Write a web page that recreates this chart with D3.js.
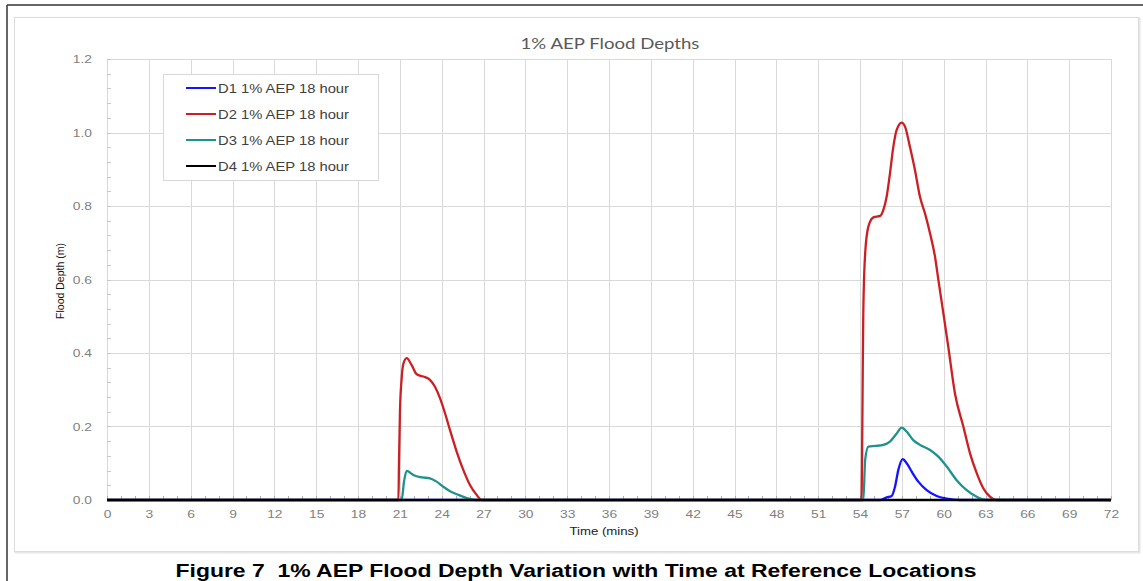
<!DOCTYPE html>
<html>
<head>
<meta charset="utf-8">
<script src="https://cdn.jsdelivr.net/npm/d3@7"></script>
<style>
  html, body { margin: 0; padding: 0; background: #fff; }
  svg { display: block; }
</style>
</head>
<body>
<svg id="chart" width="1143" height="581"></svg>
<script>
// ---------------- data ----------------
const chartTitle = "1% AEP Flood Depths";
const captionText = "Figure 7  1% AEP Flood Depth Variation with Time at Reference Locations";
const xTicks = d3.range(0, 73, 3);
const yTicks = [0, 0.2, 0.4, 0.6, 0.8, 1.0, 1.2];
const seriesNames = ["D1 1% AEP 18 hour", "D2 1% AEP 18 hour", "D3 1% AEP 18 hour", "D4 1% AEP 18 hour"];
const seriesColors = ["#1414ff", "#cc1f24", "#1f928c", "#000000"];

const d1Time  = [0, 55.44, 55.91, 56.27, 56.51, 56.75, 57.06, 57.35, 57.71, 58.18, 58.78, 59.5, 60.22, 61.17, 72];
const d1Depth = [0, 0, 0.007, 0.011, 0.036, 0.082, 0.111, 0.1, 0.077, 0.05, 0.027, 0.011, 0.004, 0, 0];

const d2Time  = [0, 20.9, 20.94, 21.01, 21.13, 21.25, 21.49, 21.85, 22.21, 22.69, 23.16, 23.52, 23.88, 24.24, 24.6, 25.08, 25.55, 26.03, 26.51, 26.87,
                 54.1, 54.24, 54.37, 54.6, 54.96, 55.44, 55.67, 55.91, 56.15, 56.39, 56.63, 56.99, 57.23, 57.58, 57.94, 58.3, 58.66, 59.02, 59.38, 59.62,
                 59.98, 60.33, 60.81, 61.41, 61.89, 62.37, 62.84, 63.32, 63.75, 72];
const d2Depth = [0, 0, 0.104, 0.24, 0.331, 0.37, 0.386, 0.367, 0.342, 0.336, 0.327, 0.308, 0.277, 0.236, 0.19, 0.131, 0.082, 0.041, 0.014, 0,
                 0, 0.517, 0.671, 0.744, 0.769, 0.773, 0.789, 0.825, 0.889, 0.961, 1.007, 1.027, 1.016, 0.961, 0.898, 0.825, 0.78, 0.726, 0.662, 0.599,
                 0.508, 0.417, 0.29, 0.2, 0.127, 0.073, 0.032, 0.009, 0, 0];

const d3Time  = [0, 21.13, 21.3, 21.49, 21.97, 22.45, 23.16, 23.64, 24.12, 24.6, 25.2, 25.8, 26.4,
                 54.24, 54.37, 54.6, 55.08, 55.67, 56.15, 56.63, 56.99, 57.35, 57.82, 58.3, 59.02, 59.62, 60.22, 60.93, 61.65, 62.37, 63, 72];
const d3Depth = [0, 0, 0.05, 0.079, 0.068, 0.062, 0.059, 0.05, 0.036, 0.024, 0.014, 0.005, 0,
                 0, 0.109, 0.145, 0.147, 0.15, 0.159, 0.181, 0.197, 0.186, 0.163, 0.15, 0.136, 0.118, 0.091, 0.054, 0.027, 0.009, 0, 0];

const d4Time  = [0, 72];
const d4Depth = [0, 0];

const seriesTimes = [d1Time, d2Time, d3Time, d4Time];
const seriesDepths = [d1Depth, d2Depth, d3Depth, d4Depth];

// ---------------- layout ----------------
const svg = d3.select("#chart");
const W = 1143, H = 581;
const plot = { left: 107, right: 1111, top: 59, bottom: 500 };
const x = d3.scaleLinear().domain([0, 72]).range([plot.left, plot.right]);
const y = d3.scaleLinear().domain([0, 1.2]).range([plot.bottom, plot.top]);
const STRETCH = 1.2;
const gridColor = "#d9d9d9";

// outer frame
svg.append("line").attr("x1", 7).attr("x2", 7).attr("y1", 5).attr("y2", H).attr("stroke", "#333").attr("stroke-width", 1.5);
svg.append("line").attr("x1", 7).attr("x2", W).attr("y1", 5).attr("y2", 5).attr("stroke", "#333").attr("stroke-width", 1.5);

// chart panel
svg.append("rect").attr("x", 15.5).attr("y", 18.5).attr("width", 1124).attr("height", 534)
  .attr("fill", "none").attr("stroke", "#e6e6e6").attr("stroke-width", 2);
svg.append("rect").attr("x", 14.5).attr("y", 17.5).attr("width", 1124).attr("height", 534)
  .attr("fill", "#fff").attr("stroke", "#dcdcdc").attr("stroke-width", 1);

// gridlines
const g = svg.append("g");
g.selectAll(".vg").data(xTicks).join("line")
  .attr("x1", d => Math.round(x(d)) + 0.5).attr("x2", d => Math.round(x(d)) + 0.5)
  .attr("y1", plot.top).attr("y2", plot.bottom)
  .attr("stroke", gridColor).attr("stroke-width", 1);
g.selectAll(".hg").data(yTicks.filter(d => d > 0)).join("line")
  .attr("x1", plot.left).attr("x2", plot.right)
  .attr("y1", d => Math.round(y(d)) + 0.5).attr("y2", d => Math.round(y(d)) + 0.5)
  .attr("stroke", gridColor).attr("stroke-width", 1);

// minor ticks
const yMinor = d3.range(0, 1.2001, 0.04);
g.selectAll(".ym").data(yMinor).join("line")
  .attr("x1", plot.left).attr("x2", plot.left + 4)
  .attr("y1", d => Math.round(y(d)) + 0.5).attr("y2", d => Math.round(y(d)) + 0.5)
  .attr("stroke", "#c8c8c8");
const xMinor = d3.range(0, 73, 1);
g.selectAll(".xm").data(xMinor).join("line")
  .attr("x1", d => Math.round(x(d)) + 0.5).attr("x2", d => Math.round(x(d)) + 0.5)
  .attr("y1", plot.bottom - 4).attr("y2", plot.bottom)
  .attr("stroke", "#b0b0b0");

// axes via d3 axis (labels only)
const yAxis = svg.append("g").attr("transform", `translate(${plot.left},0)`)
  .call(d3.axisLeft(y).tickValues(yTicks).tickFormat(d3.format(".1f")).tickSize(0).tickPadding(15));
yAxis.select(".domain").remove();
yAxis.selectAll("text").attr("class", "s").attr("fill", "#7f7f7f")
  .style("font-family", "'Liberation Sans', Arial, sans-serif").style("font-size", "11.5px");

const xAxis = svg.append("g").attr("transform", `translate(0,${plot.bottom})`)
  .call(d3.axisBottom(x).tickValues(xTicks).tickFormat(d3.format("d")).tickSize(0).tickPadding(10));
xAxis.select(".domain").remove();
xAxis.selectAll("text").attr("class", "s").attr("fill", "#7f7f7f")
  .style("font-family", "'Liberation Sans', Arial, sans-serif").style("font-size", "11.5px");

// series
const line = d3.line().x(d => x(d[0])).y(d => y(d[1])).curve(d3.curveMonotoneX);
seriesNames.forEach((name, i) => {
  const pts = seriesTimes[i].map((t, k) => [t, seriesDepths[i][k]]);
  svg.append("path").datum(pts)
    .attr("d", line)
    .attr("fill", "none")
    .attr("stroke", seriesColors[i])
    .attr("stroke-width", 2.3)
    .attr("stroke-linejoin", "round");
});

// title
svg.append("text").attr("class", "s").attr("x", 610).attr("y", 49).attr("text-anchor", "middle")
  .attr("fill", "#595959").style("font-family", "Lato, 'Open Sans', sans-serif").style("font-size", "15.5px")
  .text(chartTitle);

// axis titles
svg.append("text").attr("class", "s").attr("x", 604).attr("y", 535).attr("text-anchor", "middle")
  .attr("fill", "#222").style("font-family", "'Liberation Sans', Arial, sans-serif").style("font-size", "11px")
  .text("Time (mins)");
svg.append("text").attr("transform", "translate(64,281) rotate(-90)").attr("text-anchor", "middle")
  .attr("fill", "#111").style("font-family", "'Liberation Sans', Arial, sans-serif").style("font-size", "10.5px")
  .text("Flood Depth (m)");

// legend
const lg = svg.append("g");
lg.append("rect").attr("x", 163.5).attr("y", 74.5).attr("width", 215).attr("height", 106)
  .attr("fill", "#fff").attr("stroke", "#d9d9d9");
seriesNames.forEach((name, i) => {
  const cy = 88 + i * 26;
  lg.append("line").attr("x1", 186).attr("x2", 216).attr("y1", cy).attr("y2", cy)
    .attr("stroke", seriesColors[i]).attr("stroke-width", 2);
  lg.append("text").attr("class", "s").attr("x", 218).attr("y", cy + 4.5)
    .attr("fill", "#404040").style("font-family", "'Liberation Sans', Arial, sans-serif").style("font-size", "12.3px")
    .text(name);
});

// caption
svg.append("text").attr("x", 576).attr("y", 577).attr("text-anchor", "middle")
  .attr("fill", "#000").style("font-family", "'Liberation Sans', Arial, sans-serif").style("font-size", "17.5px")
  .style("font-weight", "bold").style("white-space", "pre").attr("xml:space", "preserve")
  .attr("textLength", 801).attr("lengthAdjust", "spacingAndGlyphs")
  .text(captionText);

// horizontal stretch to mimic the reference's aspect
svg.selectAll("text.s").each(function() {
  const len = this.getComputedTextLength();
  d3.select(this).attr("textLength", len * STRETCH).attr("lengthAdjust", "spacingAndGlyphs");
});
</script>
</body>
</html>
